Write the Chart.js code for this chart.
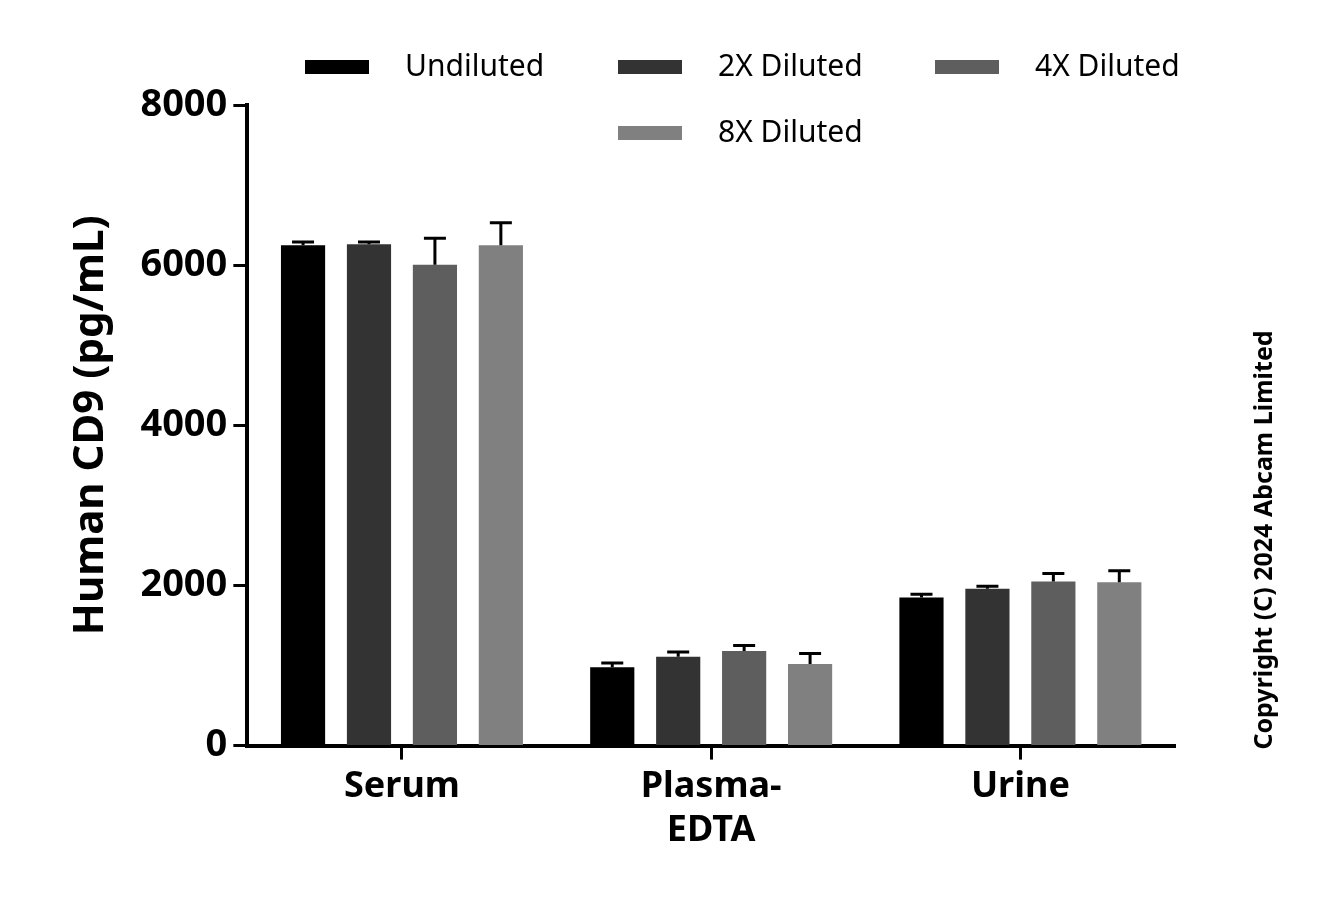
<!DOCTYPE html>
<html><head><meta charset="utf-8">
<script src="https://cdn.jsdelivr.net/npm/chart.js@4/dist/chart.umd.min.js"></script>
<style>html,body{margin:0;background:#fff}#w{width:1329px;height:898px}</style>
</head><body><div id="w"><canvas id="c"></canvas></div>
<script>
const categories = [["Serum"], ["Plasma-", "EDTA"], ["Urine"]];
const seriesNames = ["Undiluted", "2X Diluted", "4X Diluted", "8X Diluted"];
const undiluted = [6250, 980, 1850];
const diluted2x = [6260, 1110, 1960];
const diluted4x = [6005, 1180, 2050];
const diluted8x = [6250, 1020, 2040];
const err1 = [40, 50, 40];
const err2 = [30, 60, 30];
const err4 = [330, 70, 100];
const err8 = [280, 130, 145];
const yTicks = [0, 2000, 4000, 6000, 8000];
const colors = ["#000000", "#333333", "#5e5e5e", "#808080"];
const values = [undiluted, diluted2x, diluted4x, diluted8x];
const errs = [err1, err2, err4, err8];
const F = "'Noto Sans', 'DejaVu Sans', sans-serif";

const errPlugin = {
  id: 'err',
  afterDatasetsDraw(chart) {
    const ctx = chart.ctx, y = chart.scales.y;
    chart.data.datasets.forEach((ds, i) => {
      chart.getDatasetMeta(i).data.forEach((bar, j) => {
        const v = ds.data[j], e = errs[i][j];
        const yt = y.getPixelForValue(v + e), yb = y.getPixelForValue(v);
        ctx.save(); ctx.strokeStyle = '#000'; ctx.lineWidth = 3;
        ctx.beginPath(); ctx.moveTo(bar.x, yb); ctx.lineTo(bar.x, yt);
        ctx.moveTo(bar.x - 11, yt); ctx.lineTo(bar.x + 11, yt); ctx.stroke(); ctx.restore();
      });
    });
    // legend
    const pos = [[305, 67], [618, 67], [935, 67], [618, 133]];
    ctx.save();
    ctx.font = "30px " + F; ctx.textBaseline = 'middle'; ctx.textAlign = 'left';
    chart.data.datasets.forEach((ds, i) => {
      const [lx, ly] = pos[i];
      ctx.fillStyle = ds.backgroundColor; ctx.fillRect(lx, ly - 7, 64, 14);
      ctx.fillStyle = '#000'; ctx.fillText(ds.label, lx + 100, ly);
    });
    ctx.restore();
    ctx.save();
    ctx.translate(1265, 540); ctx.rotate(-Math.PI / 2);
    ctx.font = "bold 25px " + F; ctx.fillStyle = '#000'; ctx.textAlign = 'center'; ctx.textBaseline = 'middle';
    ctx.fillText("Copyright (C) 2024 Abcam Limited", 0, 0);
    ctx.restore();
  }
};

new Chart(document.getElementById('c'), {
  type: 'bar',
  data: {
    labels: categories,
    datasets: seriesNames.map((n, i) => ({ label: n, data: values[i], backgroundColor: colors[i], borderWidth: 0 }))
  },
  options: {
    responsive: true, maintainAspectRatio: false, animation: false,
    categoryPercentage: 0.853, barPercentage: 0.67,
    layout: { padding: { left: 48, right: 154, top: 105, bottom: 40 } },
    plugins: { tooltip: { enabled: false }, legend: { display: false } },
    scales: {
      x: {
        grid: { offset: false, drawOnChartArea: false, drawTicks: true, tickLength: 14, tickColor: '#000', tickWidth: 3 },
        border: { color: '#000', width: 4 },
        ticks: { color: '#000', font: { family: F, size: 36, weight: 'bold' }, padding: 6 }
      },
      y: {
        min: 0, max: 8000,
        afterBuildTicks: s => { s.ticks = yTicks.map(v => ({ value: v })); },
        grid: { drawOnChartArea: false, drawTicks: true, tickLength: 14, tickColor: '#000', tickWidth: 3 },
        border: { color: '#000', width: 4 },
        ticks: { color: '#000', font: { family: F, size: 38, weight: 'bold' }, padding: 6, callback: v => String(v) },
        title: { display: true, text: 'Human CD9 (pg/mL)', color: '#000', font: { family: F, size: 42, weight: 'bold' }, padding: 18 }
      }
    }
  },
  plugins: [errPlugin]
});
</script></body></html>
